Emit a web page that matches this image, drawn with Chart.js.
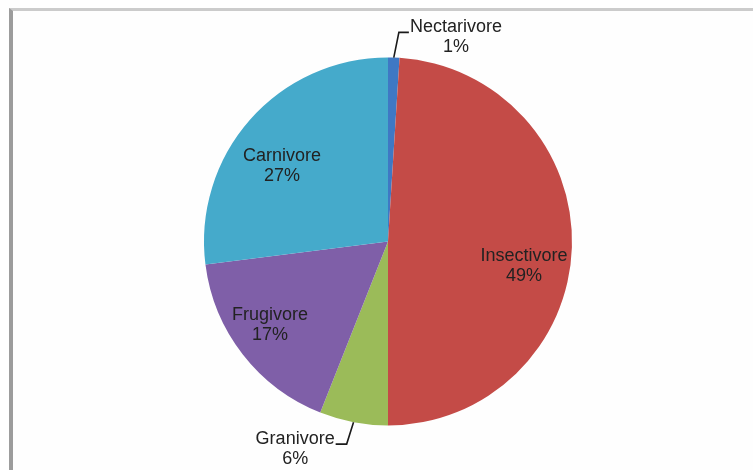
<!DOCTYPE html>
<html>
<head>
<meta charset="utf-8">
<script src="https://cdn.jsdelivr.net/npm/chart.js@4/dist/chart.umd.min.js"></script>
<style>
  html, body { margin: 0; padding: 0; background: #fff; }
  #wrap { position: relative; width: 753px; height: 470px; overflow: hidden; background: #fefefe; }
  #frame {
    position: absolute; left: 9px; top: 8px; right: -10px; bottom: -10px;
    border-top: 3px solid #cbcbcb; border-left: 4px solid #9c9c9c;
  }
  canvas { position: absolute; left: 0; top: 0; }
</style>
</head>
<body>
<div id="wrap">
  <div id="frame"></div>
  <canvas id="pieChart" width="753" height="470"></canvas>
</div>
<script>
// feeding guilds, clockwise from 12 o'clock
const categories = ['Nectarivore', 'Insectivore', 'Granivore', 'Frugivore', 'Carnivore'];
const shares = [1, 49, 6, 17, 27];
const sliceColors = ['#3F78C4', '#C44B47', '#9BBB59', '#7F5FA8', '#45AACB'];

// label placement: [distance as fraction of radius, angle shift in degrees]
const labelPlacement = [[1.169, 16.6], [0.752, 8.6], [1.236, 13.3], [0.786, 2.5], [0.707, -5.9]];

const sliceLabels = {
  id: 'sliceLabels',
  afterDatasetsDraw(chart, args, opts) {
    const ctx = chart.ctx;
    const meta = chart.getDatasetMeta(0);
    ctx.save();
    ctx.font = '18px "Liberation Sans", Arial, sans-serif';
    ctx.fillStyle = '#222';
    ctx.textAlign = 'center';
    ctx.textBaseline = 'middle';
    meta.data.forEach((arc, i) => {
      const p = arc.getProps(['x', 'y', 'startAngle', 'endAngle', 'outerRadius'], true);
      const mid = (p.startAngle + p.endAngle) / 2;
      const [k, shift] = opts.placement[i];
      const a = mid + shift * Math.PI / 180;
      const lx = p.x + Math.cos(a) * p.outerRadius * k;
      const ly = p.y + Math.sin(a) * p.outerRadius * k;
      const line1 = chart.data.labels[i];
      const line2 = chart.data.datasets[0].data[i] + '%';
      ctx.fillText(line1, lx, ly - 10);
      ctx.fillText(line2, lx, ly + 10);

      if (k > 1) {
        // leader line from the rim to the label
        const w = ctx.measureText(line1).width;
        const rx = p.x + Math.cos(mid) * p.outerRadius;
        const ry = p.y + Math.sin(mid) * p.outerRadius;
        const right = lx > p.x;
        const edge = right ? lx - w / 2 - 1 : lx + w / 2 + 1;
        const elbow = right ? edge - 10 : edge + 11;
        ctx.strokeStyle = '#1a1a1a';
        ctx.lineWidth = 1.6;
        ctx.beginPath();
        ctx.moveTo(rx, ry);
        ctx.lineTo(elbow, ly - 5);
        ctx.lineTo(edge, ly - 5);
        ctx.stroke();
      }
    });
    ctx.restore();
  }
};

new Chart(document.getElementById('pieChart').getContext('2d'), {
  type: 'pie',
  data: {
    labels: categories,
    datasets: [{
      data: shares,
      backgroundColor: sliceColors,
      borderWidth: 0
    }]
  },
  options: {
    responsive: false,
    animation: false,
    devicePixelRatio: 1,
    layout: {
      padding: { top: 57.5, bottom: 44.5, left: 23, right: 0 }
    },
    plugins: {
      legend: { display: false },
      tooltip: { enabled: false },
      sliceLabels: { placement: labelPlacement }
    }
  },
  plugins: [sliceLabels]
});
</script>
</body>
</html>
